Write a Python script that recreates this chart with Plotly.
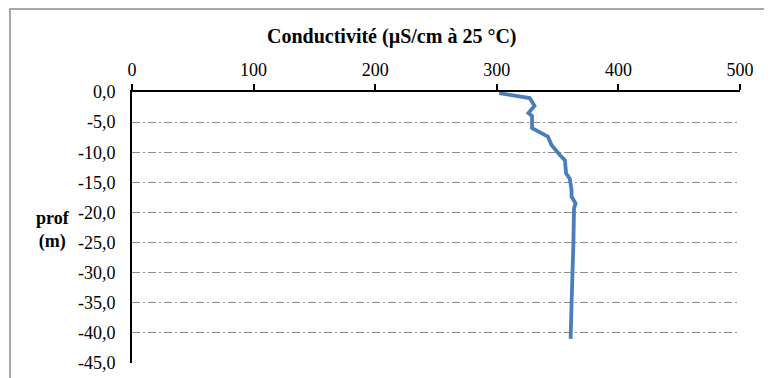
import plotly.graph_objects as go

# Data
conductivite = [302, 327, 331, 326, 329, 329, 342, 345, 352, 356, 357, 360, 361.5, 361.5, 364.8, 363.5, 363, 362, 361.5, 360.7]
profondeur = [-0.2, -1.0, -2.3, -3.5, -4.0, -6.0, -7.4, -8.8, -10.5, -11.3, -13.5, -14.4, -16.3, -17.4, -18.5, -19.3, -25, -30, -35, -41]

x_ticks = [0, 100, 200, 300, 400, 500]
y_ticks = [0, -5, -10, -15, -20, -25, -30, -35, -40, -45]
y_ticktext = ["0,0", "-5,0", "-10,0", "-15,0", "-20,0", "-25,0", "-30,0", "-35,0", "-40,0", "-45,0"]

title_text = "Conductivité (µS/cm à 25 °C)"
ytitle_text = "prof<br>(m)"

FONT = "Liberation Serif"

fig = go.Figure()
fig.add_trace(go.Scatter(
    x=conductivite, y=profondeur, mode="lines",
    line=dict(color="#4a7ebb", width=3.8),
    showlegend=False, hoverinfo="skip",
))

fig.update_layout(
    width=764, height=370,
    margin=dict(l=124, r=32, t=84, b=15, autoexpand=False),
    paper_bgcolor="white", plot_bgcolor="white",
    font=dict(family=FONT, size=18, color="black"),
    xaxis=dict(
        side="top", range=[0, 500], tickvals=x_ticks,
        ticktext=[str(v) for v in x_ticks],
        showline=True, linecolor="black", linewidth=2,
        ticks="outside", ticklen=6, tickwidth=1.5, tickcolor="black",
        ticklabelstandoff=1,
        showgrid=False, zeroline=False, automargin=False,
        tickfont=dict(family=FONT, size=18, color="black"),
    ),
    yaxis=dict(
        range=[-45, 0], tickvals=y_ticks, ticktext=y_ticktext,
        showline=True, linecolor="black", linewidth=2,
        ticks="", ticklabelstandoff=11,
        showgrid=True, gridcolor="#8c8c8c", gridwidth=1.3,
        griddash="8px,3px,2px,3px",
        zeroline=False, automargin=False,
        tickfont=dict(family=FONT, size=18, color="black"),
    ),
    annotations=[
        dict(text="<b>" + title_text + "</b>", xref="paper", yref="paper",
             x=0.4276, y=1.2066, xanchor="center", yanchor="middle",
             showarrow=False, font=dict(family=FONT, size=20, color="black")),
        dict(text="<b>" + ytitle_text + "</b>", xref="paper", yref="paper",
             x=-0.13, y=0.49, xanchor="center", yanchor="middle",
             showarrow=False, font=dict(family=FONT, size=18, color="black")),
    ],
    shapes=[
        dict(type="rect", xref="paper", yref="paper",
             x0=-0.2007, x1=1.2, y0=-0.3, y1=1.3063,
             line=dict(color="#8c8c8c", width=1.5), layer="below"),
    ],
)

fig.write_html("out.html")
